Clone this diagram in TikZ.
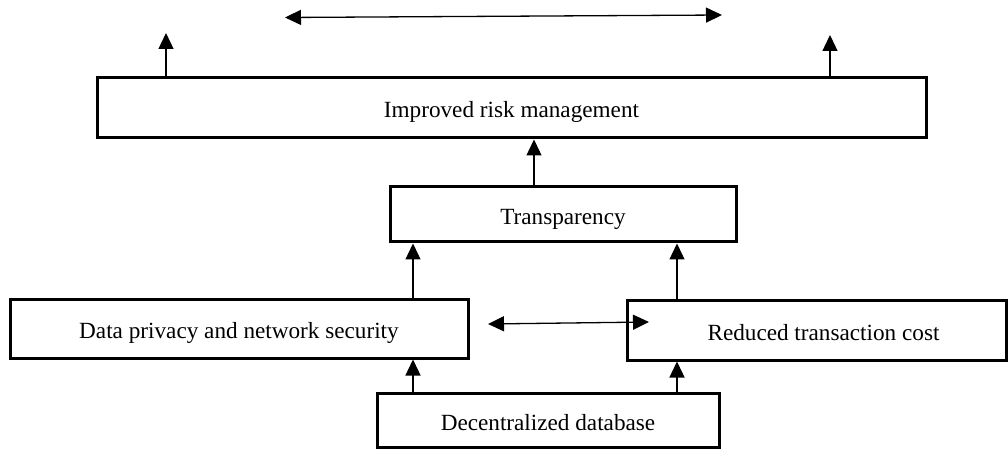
\documentclass[tikz,border=0pt]{standalone}
\usepackage{fontspec}
\setmainfont{Liberation Serif}
\usetikzlibrary{arrows.meta}
\tikzset{
  box/.style={draw, line width=1.5pt, rectangle, inner sep=0pt, text height=12pt, text depth=2pt, font=\fontsize{11.6}{13.5}\selectfont},
  arr/.style={line width=0.65pt, -{Triangle[length=8pt,width=7.5pt]}},
  darr/.style={line width=0.65pt, {Triangle[length=8pt,width=7.5pt]}-{Triangle[length=8pt,width=7.5pt]}}
}
\begin{document}
\begin{tikzpicture}[x=0.5pt,y=-0.5pt]
\useasboundingbox (0,0) rectangle (1008,449);
\node[box, minimum width=414.5pt, minimum height=30pt] (irm) at (511.5,108) {Improved risk management};
\node[box, minimum width=173pt, minimum height=27.5pt] (tr) at (563,214.5) {Transparency};
\node[box, minimum width=229pt, minimum height=29.5pt] (dp) at (239,328.5) {Data privacy and network security};
\node[box, minimum width=189.5pt, minimum height=30pt] (rtc) at (816.5,330) {\hspace{7pt}Reduced transaction cost};
\node[box, minimum width=171pt, minimum height=27pt] (dd) at (548,420) {Decentralized database};
% helper coordinates
\coordinate (tl) at (166,33);
\coordinate (tr2) at (830,35);
\coordinate (ha) at (285,17.5);
\coordinate (hb) at (722,15);
\coordinate (ma) at (488,324);
\coordinate (mb) at (649,322);
\coordinate (xa) at (534,0);
\coordinate (xb) at (413,0);
\coordinate (xc) at (677,0);
% connectors
\draw[arr] (irm.north -| tl) -- (tl);
\draw[arr] (irm.north -| tr2) -- (tr2);
\draw[darr] (ha) -- (hb);
\draw[arr] (tr.north -| xa) -- (irm.south -| xa);
\draw[arr] (dp.north -| xb) -- (tr.south -| xb);
\draw[arr] (rtc.north -| xc) -- (tr.south -| xc);
\draw[darr] (ma) -- (mb);
\draw[arr] (dd.north -| xb) -- (dp.south -| xb);
\draw[arr] (dd.north -| xc) -- (rtc.south -| xc);
\end{tikzpicture}
\end{document}
